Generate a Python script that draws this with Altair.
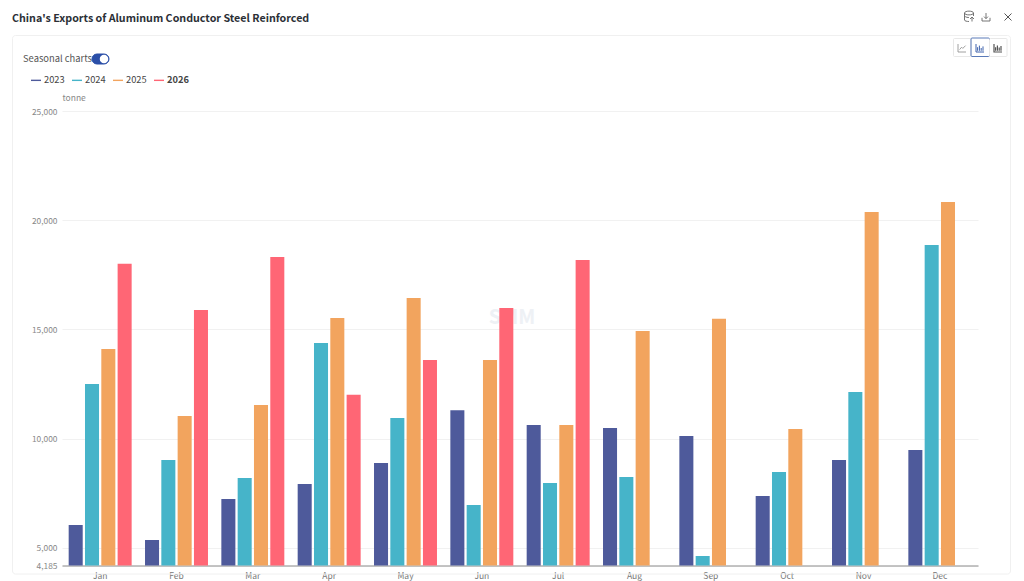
import altair as alt
import pandas as pd

FONT = "Noto Sans CJK SC"
months = ["Jan","Feb","Mar","Apr","May","Jun","Jul","Aug","Sep","Oct","Nov","Dec"]
years = ["2023","2024","2025","2026"]
colors = ["#4e5a9b","#46b4c9","#f2a45e","#ff6675"]
v2023 = [6040,5350,7230,7920,8880,11300,10620,10480,10120,7370,9020,9480]
v2024 = [12500,9020,8190,14375,10940,6960,7960,8240,4620,8470,12130,18860]
v2025 = [14100,11030,11535,15520,16440,13600,10620,14925,15480,10440,20370,20830]
v2026 = [18000,15890,18315,12000,13600,15980,18175]
y_ticks = [4185,5000,10000,15000,20000,25000]

rows = []
for yr, vals in zip(years,[v2023,v2024,v2025,v2026]):
    for m, v in zip(months, vals):
        rows.append({"month":m,"year":yr,"value":v})
df = pd.DataFrame(rows)

W, H = 916, 454.5
OX, OY = 62, 111   # plot origin in page pixels
px = lambda x: x-OX
py = lambda y: y-OY

one = alt.Data(values=[{"a":1}])

def rect(x0,x1,y0,y1,fill="transparent",stroke="#eeeeee",sw=1,r=3):
    return alt.Chart(one).mark_rect(fill=fill,stroke=stroke,strokeWidth=sw,cornerRadius=r,clip=False).encode(
        x=alt.value(px(x0)),x2=alt.value(px(x1)),y=alt.value(py(y0)),y2=alt.value(py(y1)))

def text(s,x,y,size=11,color="#555555",weight="normal",align="left",opacity=1):
    return alt.Chart(one).mark_text(text=s,font=FONT,fontSize=size,color=color,fontWeight=weight,
        align=align,baseline="middle",opacity=opacity,clip=False).encode(x=alt.value(px(x)),y=alt.value(py(y)))

def icon(path,x,y,size,color="#666666",sw=1):
    return alt.Chart(one).mark_point(shape=path,size=size,stroke=color,strokeWidth=sw,fill=None,filled=False,opacity=1,clip=False).encode(
        x=alt.value(px(x)),y=alt.value(py(y)))

chrome = [
    rect(12.5,1010.5,35.5,574,stroke="#f0f0f0"),
    text("China's Exports of Aluminum Conductor Steel Reinforced",12,19,size=10.7,color="#2b2f36",weight=600),
    text("Seasonal charts",23,59,size=9.4,color="#555555"),
    rect(92,109,54,64,fill="#2b4fa8",stroke="#2b4fa8",r=5),
    alt.Chart(one).mark_point(shape="circle",size=42,fill="white",stroke="white",filled=True,opacity=1,clip=False).encode(
        x=alt.value(px(104)),y=alt.value(py(59))),
    text("SMM",512,318,size=20,color="#eef1f5",weight="bold",align="center"),
    rect(953.5,971,38.5,56.5,stroke="#e8e8e8",r=1),
    rect(971,989.5,38,56.5,stroke="#5a7ab8",r=1),
    rect(989.5,1007,38.5,56.5,stroke="#e8e8e8",r=1),
    icon("M-1,-1V1H1M-0.6,0.4L-0.1,-0.2L0.2,0.1L0.9,-0.6",962,48,64,"#888888",0.8),
    icon("M-1,-1V1H1M-0.6,0.7V-0.2M-0.15,0.7V-0.6M0.3,0.7V0M0.75,0.7V-0.4",980,48,64,"#3f63ad",1),
    icon("M-1,-1V1H1M-0.6,0.7V-0.2M-0.15,0.7V-0.6M0.3,0.7V-0.1M0.75,0.7V-0.5",998,48,64,"#555555",1.2),
    icon("M-0.9,-0.6C-0.9,-1.1 0.9,-1.1 0.9,-0.6C0.9,-0.1 -0.9,-0.1 -0.9,-0.6M-0.9,-0.6V0.8C-0.9,1 -0.4,1.1 0,1.1M0.9,-0.6V0M-0.9,0C-0.6,0.3 -0.2,0.3 0,0.3M0.6,1.1V0.2M0.2,0.6L0.6,0.2L1,0.6",969,16,100,"#666666",0.9),
    icon("M-1,0.2V1H1V0.2M0,-1V0.4M-0.5,-0.1L0,0.4L0.5,-0.1",986,17,64,"#666666",0.9),
    icon("M-1,-1L1,1M1,-1L-1,1",1008,17,49,"#555555",1),
]

x = alt.X("month:N",sort=months,title=None,
    scale=alt.Scale(paddingInner=0.175,paddingOuter=0.0875),
    axis=alt.Axis(labelAngle=0,labelFont=FONT,labelFontSize=8.5,labelColor="#777777",ticks=False,
                  domainColor="#b0b0b0",domainWidth=1.5,labelPadding=6,grid=False))
y = alt.Y("value:Q",title="tonne",
    scale=alt.Scale(domain=[4185,25000],nice=False,zero=False),
    axis=alt.Axis(values=y_ticks,format=",d",labelFont=FONT,labelFontSize=8.4,labelColor="#888888",ticks=False,
                  domain=False,gridColor="#f1f1f1",gridWidth=1,labelPadding=5,labelOverlap=False,
                  titleFont=FONT,titleFontSize=8.5,titleColor="#888888",titleFontWeight="normal",
                  titleAngle=0,titleX=0,titleY=-14,titleAlign="left",titleBaseline="middle"))
bars = alt.Chart(df).mark_bar(clip=True).encode(
    x=x,y=y,
    xOffset=alt.XOffset("year:N",sort=years,scale=alt.Scale(paddingInner=0.14,paddingOuter=0)),
    color=alt.Color("year:N",sort=years,scale=alt.Scale(domain=years,range=colors),
        legend=alt.Legend(orient="none",legendX=px(31),legendY=py(75),direction="horizontal",title=None,
            symbolType="M-1,-0.14H1V0.14H-1Z",symbolSize=100,symbolStrokeWidth=0,
            labelFont=FONT,labelFontSize=9.3,labelColor="#444444",
            labelFontWeight=alt.ExprRef("datum.label=='2026'?'bold':'normal'"),
            columnPadding=7,labelOffset=3)),
)

chart = alt.layer(*chrome,bars).properties(
    width=W,height=H,
    padding={"left":OX-8,"top":OY-8,"right":1024-16-W-(OX-8),"bottom":15},
    autosize=alt.AutoSizeParams(type="none"),
).configure_view(stroke=None)

chart.save("out.html", embed_options={"renderer": "svg", "actions": False})
